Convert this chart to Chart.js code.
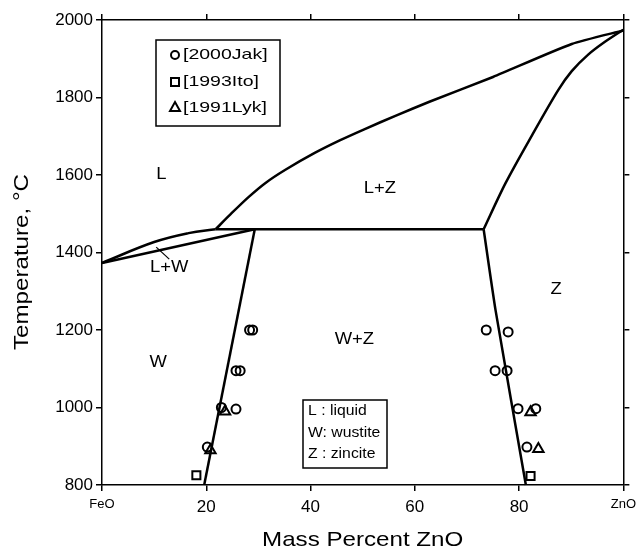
<!DOCTYPE html>
<html>
<head>
<meta charset="utf-8">
<script src="https://cdn.jsdelivr.net/npm/chart.js@4.4.1/dist/chart.umd.min.js"></script>
<style>
  html, body { margin: 0; padding: 0; background: #fff; }
  #wrap { width: 642px; height: 552px; }
</style>
</head>
<body>
<div id="wrap"><canvas id="phaseChart" width="642" height="552"></canvas></div>
<script>
// FeO-ZnO phase diagram, points are [mass % ZnO, temperature in C]
const wLiquidus = [[0, 1373], [10, 1427], [16.6, 1450], [21.8, 1460]];
const wSolidus = [[0, 1373], [29.3, 1460]];
const peritectic = [[21.8, 1460], [73.2, 1460]];
const wSolvus = [[29.3, 1460], [19.6, 800]];
const zSolvus = [[73.2, 1460], [75.5, 1250], [81.3, 800]];
const zLiquidus = [[73.2, 1460], [77.4, 1579], [82.5, 1703], [87.5, 1819], [90.1, 1868], [93.2, 1910], [96.4, 1943], [100, 1975]];
const lLiquidus = [[21.8, 1460], [24.9, 1502], [28.1, 1543], [31.3, 1579], [35.1, 1613], [40.8, 1657], [45.7, 1690],
  [50.3, 1718], [56.5, 1754], [62.8, 1789], [75, 1853], [90.1, 1938], [100, 1973]];

// experimental points
const jak2000 = [[28.3, 1200], [28.9, 1200], [25.7, 1095], [26.5, 1095], [22.9, 1000], [25.7, 996], [20.2, 898],
  [73.7, 1200], [77.9, 1195], [75.4, 1095], [77.7, 1095], [79.8, 997], [83.2, 997], [81.5, 898]];
const ito1993 = [[18.1, 825], [82.2, 823]];
const lyk1991 = [[23.6, 990], [20.8, 890], [82.2, 988], [83.7, 893]];

const xTicks = [0, 20, 40, 60, 80, 100];
const xTickNames = { 0: 'FeO', 100: 'ZnO' };

const FONT = '"Liberation Sans", Arial, sans-serif';
const pts = arr => arr.map(([x, y]) => ({ x, y }));

const boundary = (data, tension) => ({
  data: pts(data),
  showLine: true,
  borderColor: '#000',
  borderWidth: 2.5,
  pointRadius: 0,
  tension: tension,
  clip: false,
  order: 2
});

const marks = (label, data, style, radius) => ({
  label: label,
  data: pts(data),
  pointStyle: style,
  pointRadius: radius,
  borderColor: '#000',
  backgroundColor: 'rgba(0,0,0,0)',
  borderWidth: 2,
  showLine: false,
  order: 1
});

function wideText(ctx, text, x, y, sx, align) {
  ctx.save();
  ctx.translate(x, y);
  ctx.scale(sx, 1);
  ctx.textAlign = align;
  ctx.fillText(text, 0, 0);
  ctx.restore();
}

const regionLabels = [
  { text: 'L', x: 11.4, y: 1600 },
  { text: 'L+Z', x: 53.3, y: 1566 },
  { text: 'Z', x: 87.1, y: 1303 },
  { text: 'W+Z', x: 48.4, y: 1174 },
  { text: 'W', x: 10.8, y: 1117 },
  { text: 'L+W', x: 12.9, y: 1360 }
];

const annotate = {
  id: 'annotate',
  afterDraw(chart) {
    const { ctx, chartArea: a, scales: { x, y } } = chart;
    ctx.save();
    ctx.fillStyle = '#000';
    ctx.strokeStyle = '#000';
    ctx.textBaseline = 'middle';

    // region names
    ctx.font = '16px ' + FONT;
    regionLabels.forEach(l => wideText(ctx, l.text, x.getPixelForValue(l.x), y.getPixelForValue(l.y), 1.15, 'center'));
    ctx.lineWidth = 1.2;
    ctx.beginPath();
    ctx.moveTo(x.getPixelForValue(10.4), y.getPixelForValue(1414));
    ctx.lineTo(x.getPixelForValue(12.9), y.getPixelForValue(1383));
    ctx.stroke();

    // legend box
    ctx.lineWidth = 1.5;
    const lx = a.left + 54, ly = a.top + 20;
    ctx.strokeRect(lx, ly, 124, 86);
    ctx.lineWidth = 2;
    ctx.beginPath();
    ctx.arc(lx + 19, ly + 15, 4, 0, Math.PI * 2);
    ctx.stroke();
    ctx.strokeRect(lx + 15, ly + 38, 8, 8);
    ctx.beginPath();
    ctx.moveTo(lx + 19, ly + 62);
    ctx.lineTo(lx + 24, ly + 71);
    ctx.lineTo(lx + 14, ly + 71);
    ctx.closePath();
    ctx.stroke();
    ctx.font = '15px ' + FONT;
    wideText(ctx, '[2000Jak]', lx + 27, ly + 15, 1.3, 'left');
    wideText(ctx, '[1993Ito]', lx + 27, ly + 42, 1.3, 'left');
    wideText(ctx, '[1991Lyk]', lx + 27, ly + 68, 1.3, 'left');

    // phase key box
    ctx.lineWidth = 1.5;
    const kx = a.left + 201, ky = a.top + 380;
    ctx.strokeRect(kx, ky, 84, 68);
    ctx.font = '15px ' + FONT;
    wideText(ctx, 'L : liquid', kx + 5, ky + 11, 1.05, 'left');
    wideText(ctx, 'W: wustite', kx + 5, ky + 33, 1.05, 'left');
    wideText(ctx, 'Z : zincite', kx + 5, ky + 54, 1.05, 'left');

    // axis titles
    ctx.font = '21px ' + FONT;
    wideText(ctx, 'Mass Percent ZnO', (a.left + a.right) / 2, 540, 1.15, 'center');
    ctx.save();
    ctx.translate(22, 262);
    ctx.rotate(-Math.PI / 2);
    wideText(ctx, 'Temperature, \u00B0C', 0, 0, 1.15, 'center');
    ctx.restore();
    ctx.restore();
  }
};

const frameGrid = { drawOnChartArea: false, tickLength: 6, color: '#000', lineWidth: 1.5 };
const frameBorder = { display: true, color: '#000', width: 1.5 };

new Chart(document.getElementById('phaseChart'), {
  type: 'scatter',
  data: {
    datasets: [
      marks('[2000Jak]', jak2000, 'circle', 4.5),
      marks('[1993Ito]', ito1993, 'rect', 5.7),
      marks('[1991Lyk]', lyk1991, 'triangle', 6),
      boundary(wLiquidus, 0.4),
      boundary(wSolidus, 0),
      boundary(peritectic, 0),
      boundary(wSolvus, 0),
      boundary(zSolvus, 0.2),
      boundary(zLiquidus, 0.3),
      boundary(lLiquidus, 0.2)
    ]
  },
  options: {
    responsive: false,
    animation: false,
    layout: { padding: { top: 20, right: 13, bottom: 0, left: 0 } },
    plugins: { legend: { display: false }, tooltip: { enabled: false } },
    scales: {
      x: {
        type: 'linear', position: 'bottom', min: 0, max: 100,
        afterBuildTicks: s => { s.ticks = xTicks.map(v => ({ value: v })); },
        afterFit: s => { s.height = 67; },
        ticks: {
          color: '#000', padding: 6, maxRotation: 0, autoSkip: false,
          callback: v => xTickNames[v] || String(v),
          font: c => ({ family: FONT, size: (c.tick && xTickNames[c.tick.value]) ? 13 : 17 })
        },
        grid: frameGrid, border: frameBorder
      },
      x2: {
        type: 'linear', position: 'top', min: 0, max: 100,
        afterBuildTicks: s => { s.ticks = xTicks.map(v => ({ value: v })); },
        afterFit: s => { s.height = 0; },
        ticks: { display: false },
        grid: frameGrid, border: frameBorder
      },
      y: {
        type: 'linear', position: 'left', min: 800, max: 2000,
        afterFit: s => { s.width = 102; },
        ticks: { stepSize: 200, color: '#000', padding: 3, font: { family: FONT, size: 17 }, callback: v => String(v) },
        grid: frameGrid, border: frameBorder
      },
      y2: {
        type: 'linear', position: 'right', min: 800, max: 2000,
        afterFit: s => { s.width = 0; },
        ticks: { stepSize: 200, display: false },
        grid: frameGrid, border: frameBorder
      }
    }
  },
  plugins: [annotate]
});
</script>
</body>
</html>
